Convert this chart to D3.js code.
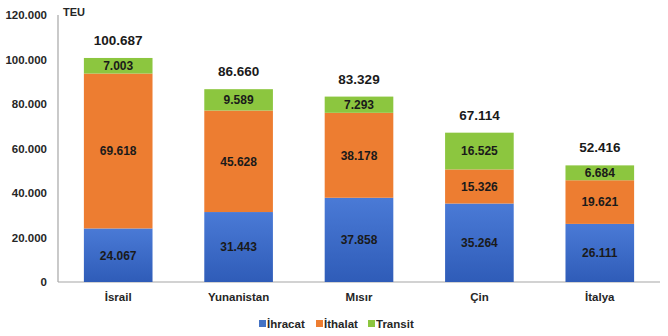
<!DOCTYPE html>
<html><head><meta charset="utf-8">
<script src="https://cdn.jsdelivr.net/npm/d3@7"></script>
<style>body{margin:0;background:#fff}svg{display:block;font-family:"Liberation Sans",Arial,sans-serif}</style>
</head><body><svg id="c" width="668" height="336"></svg>
<script>
const categories = ["İsrail","Yunanistan","Mısır","Çin","İtalya"];
const ihracat = [24067,31443,37858,35264,26111];
const ithalat = [69618,45628,38178,15326,19621];
const transit = [7003,9589,7293,16525,6684];
const totals = [100687,86660,83329,67114,52416];
const seriesNames = ["İhracat","İthalat","Transit"];
const yTicks = [0,20000,40000,60000,80000,100000,120000];

const colors = ["#4472C4","#ED7D31","#8CC63F"];
const fmt = v => d3.format(",")(v).replace(/,/g,".");

const svg = d3.select("#c");
const m = {l:58, r:660, t:15, b:282};
const x = d3.scaleBand().domain(categories).range([m.l, m.r]).paddingInner(0.43).paddingOuter(0.215);
const y = d3.scaleLinear().domain([0,120000]).range([m.b, m.t]);

const defs = svg.append("defs");
const g0 = defs.append("linearGradient").attr("id","gb").attr("x1",0).attr("x2",0).attr("y1",0).attr("y2",1);
g0.append("stop").attr("offset","0%").attr("stop-color","#4a7ad6");
g0.append("stop").attr("offset","100%").attr("stop-color","#2f5cb8");

const rows = categories.map((c,i)=>({cat:c, v:[ihracat[i], ithalat[i], transit[i]], total: totals[i]}));
const stack = d3.stack().keys([0,1,2]).value((d,k)=>d.v[k]);
const layers = stack(rows);

// axes lines
svg.append("line").attr("x1",m.l).attr("x2",m.l).attr("y1",m.t).attr("y2",m.b).attr("stroke","#a6a6a6").attr("stroke-width",1.2);
svg.append("line").attr("x1",m.l).attr("x2",m.r).attr("y1",m.b).attr("y2",m.b).attr("stroke","#a6a6a6").attr("stroke-width",1.2);

// y tick labels
svg.append("g").selectAll("text").data(yTicks).join("text")
  .attr("x", m.l-11).attr("y", d=>y(d)).attr("dy","0.35em").attr("text-anchor","end")
  .attr("font-size",11.5).attr("font-weight","bold").attr("fill","#262626").text(d=>fmt(d));

svg.append("text").attr("x",m.l+5).attr("y",16).attr("font-size",11).attr("font-weight","bold").attr("fill","#262626").text("TEU");

layers.forEach((layer,k)=>{
  const g = svg.append("g");
  g.selectAll("rect").data(layer).join("rect")
    .attr("x", d=>x(d.data.cat)).attr("width", x.bandwidth())
    .attr("y", d=>y(d[1])).attr("height", d=>y(d[0])-y(d[1]))
    .attr("fill", k===0 ? "url(#gb)" : colors[k]);
  g.selectAll("text").data(layer).join("text")
    .attr("x", d=>x(d.data.cat)+x.bandwidth()/2).attr("y", d=>(y(d[0])+y(d[1]))/2).attr("dy","0.36em")
    .attr("text-anchor","middle").attr("font-size",12).attr("font-weight","bold").attr("fill","#1a1a1a")
    .text(d=>fmt(d.data.v[k]));
});

// totals
svg.append("g").selectAll("text").data(rows).join("text")
  .attr("x", d=>x(d.cat)+x.bandwidth()/2).attr("y", d=>y(d.total)-13)
  .attr("text-anchor","middle").attr("font-size",13.5).attr("font-weight","bold").attr("fill","#1a1a1a")
  .text(d=>fmt(d.total));

// category labels
svg.append("g").selectAll("text").data(categories).join("text")
  .attr("x", d=>x(d)+x.bandwidth()/2).attr("y", 301)
  .attr("text-anchor","middle").attr("font-size",11.5).attr("font-weight","bold").attr("fill","#262626")
  .text(d=>d);

// legend
const lx = [259, 316, 368];
const lg = svg.append("g");
seriesNames.forEach((n,i)=>{
  lg.append("rect").attr("x",lx[i]).attr("y",320).attr("width",7).attr("height",7).attr("fill",colors[i]);
  lg.append("text").attr("x",lx[i]+8).attr("y",327.5).attr("font-size",11.5).attr("font-weight","bold").attr("fill","#262626").text(n);
});
</script></body></html>
